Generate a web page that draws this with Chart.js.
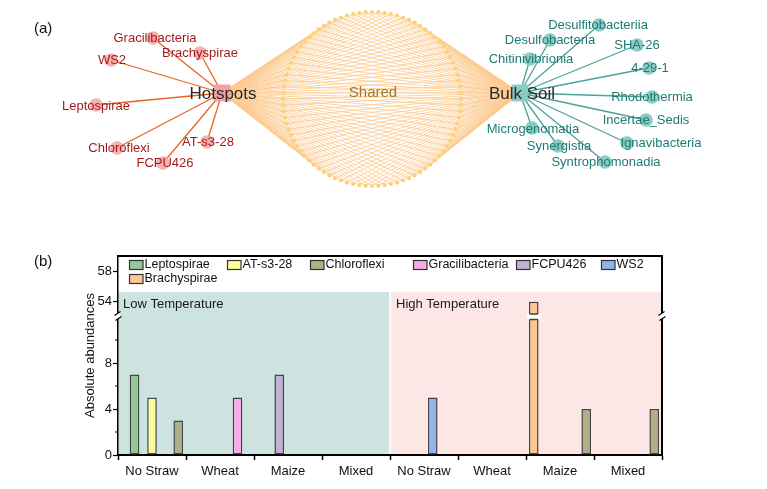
<!DOCTYPE html>
<html><head><meta charset="utf-8">
<script src="https://cdn.jsdelivr.net/npm/chart.js@4.4.0/dist/chart.umd.min.js"></script>
<style>
html,body{margin:0;padding:0;background:#fff;width:767px;height:489px;overflow:hidden}
#wa{position:absolute;left:0;top:0;width:767px;height:210px}
#wb{position:absolute;left:0;top:230px;width:767px;height:259px}
</style></head><body>
<div id="wa"><canvas id="ca"></canvas></div>
<div id="wb"><canvas id="cb"></canvas></div>
<script>
// ================= DATA =================
// Panel (a): network
const hubNames = ['Hotspots', 'Bulk Soil'];
const hotspotTaxa = ['Gracilibacteria','Brachyspirae','WS2','Leptospirae','Chloroflexi','FCPU426','AT-s3-28'];
const bulkSoilTaxa = ['Desulfitobacteriia','Desulfobacteria','SHA-26','Chitinivibrionia','4-29-1','Rhodothermia','Incertae_Sedis','Ignavibacteria','Microgenomatia','Synergistia','Syntrophomonadia'];
const sharedLabel = 'Shared';
const sharedTaxaCount = 88;

// Panel (b): bar chart
const groupLabels = ['No Straw','Wheat','Maize','Mixed','No Straw','Wheat','Maize','Mixed'];
const temperatureLabels = ['Low Temperature','High Temperature'];
const seriesNames = ['Brachyspirae','Leptospirae','FCPU426','AT-s3-28','WS2','Gracilibacteria','Chloroflexi'];
const brachyspirae    = [null,null,null,null,null,null,54,null];
const leptospirae     = [7,null,null,null,null,null,null,null];
const fcpu426         = [null,null,7,null,null,null,null,null];
const atS328          = [5,null,null,null,null,null,null,null];
const ws2             = [null,null,null,null,5,null,null,null];
const gracilibacteria = [null,5,null,null,null,null,null,null];
const chloroflexi     = [3,null,null,null,null,null,4,4];
const seriesValues = [brachyspirae, leptospirae, fcpu426, atS328, ws2, gracilibacteria, chloroflexi];
const legendOrder = ['Leptospirae','AT-s3-28','Chloroflexi','Gracilibacteria','FCPU426','WS2','Brachyspirae'];
const yTickValues = [0,4,8,54,58];
const yMinorTickValues = [2,6,10];
const yAxisBreak = {low:12, high:52};
const yRange = {min:0, max:60};

// ================= STYLE / LAYOUT =================
const FONT = '"Liberation Sans", Arial, Helvetica, sans-serif';
const netLayout = {
  hubs: {'Hotspots':[222,93], 'Bulk Soil':[520,93]},
  nodes: {
    'Gracilibacteria':[153,38],'Brachyspirae':[200,53],'WS2':[111,60],'Leptospirae':[96,105],
    'Chloroflexi':[117,148],'FCPU426':[163,163],'AT-s3-28':[207,142],
    'Desulfitobacteriia':[599,25],'Desulfobacteria':[550,40],'SHA-26':[637,45],'Chitinivibrionia':[530,59],
    '4-29-1':[649,68],'Rhodothermia':[652,97],'Incertae_Sedis':[646,120],'Ignavibacteria':[627,143],
    'Microgenomatia':[532,128],'Synergistia':[558,146],'Syntrophomonadia':[605,162]
  },
  labels: {
    'Gracilibacteria':[155,38],'Brachyspirae':[200,53],'WS2':[112,60],'Leptospirae':[96,106],
    'Chloroflexi':[119,148],'FCPU426':[165,163],'AT-s3-28':[208,142],
    'Desulfitobacteriia':[598,25],'Desulfobacteria':[550,40],'SHA-26':[637,45],'Chitinivibrionia':[531,59],
    '4-29-1':[650,68],'Rhodothermia':[652,97],'Incertae_Sedis':[646,120],'Ignavibacteria':[661,143],
    'Microgenomatia':[533,129],'Synergistia':[559,146],'Syntrophomonadia':[606,162]
  },
  hubLabels: {'Hotspots':[223,94], 'Bulk Soil':[522,94]},
  shared: {cx:372, cy:99, rx:89, ry:87, label:[373,93]}
};
const seriesColors = {
  'Leptospirae':'#93c89b','AT-s3-28':'#fcfc9c','Chloroflexi':'#afaf88','Gracilibacteria':'#f9aaea',
  'FCPU426':'#c2b1d3','WS2':'#92b3ec','Brachyspirae':'#fdc791'
};
// legend item x (page px) and row offset below the plot frame top
const legendPos = [[129,9],[227,9],[310,9],[413,9],[516,9],[601,9],[129,23]];

// ================= PANEL (a) =================
const ringPts = [];
(function(){
  const R = netLayout.shared;
  for (let i = 0; i < sharedTaxaCount; i++) {
    const a = -Math.PI/2 + 2*Math.PI*i/sharedTaxaCount;
    ringPts.push({x: R.cx + R.rx*Math.cos(a), y: R.cy + R.ry*Math.sin(a)});
  }
})();
function edges(hub, pts) {
  const d = [];
  pts.forEach(p => { d.push({x:hub[0], y:hub[1]}, {x:p.x, y:p.y}, {x:null, y:null}); });
  return d;
}
const hotHub = netLayout.hubs['Hotspots'], bulkHub = netLayout.hubs['Bulk Soil'];
const hotPts = hotspotTaxa.map(n => ({x:netLayout.nodes[n][0], y:netLayout.nodes[n][1]}));
const bulkPts = bulkSoilTaxa.map(n => ({x:netLayout.nodes[n][0], y:netLayout.nodes[n][1]}));

const netLabelsPlugin = {
  id:'netLabels',
  afterDatasetsDraw(chart) {
    const ctx = chart.ctx, xs = chart.scales.x, ys = chart.scales.y;
    ctx.save();
    ctx.textAlign = 'center'; ctx.textBaseline = 'middle';
    ctx.font = '13px ' + FONT;
    ctx.fillStyle = '#9e1a1a';
    hotspotTaxa.forEach(n => { const p = netLayout.labels[n]; ctx.fillText(n, xs.getPixelForValue(p[0]), ys.getPixelForValue(p[1])); });
    ctx.fillStyle = '#1c7b73';
    bulkSoilTaxa.forEach(n => { const p = netLayout.labels[n]; ctx.fillText(n, xs.getPixelForValue(p[0]), ys.getPixelForValue(p[1])); });
    ctx.font = '17px ' + FONT;
    ctx.fillStyle = '#2a2a2a';
    hubNames.forEach(n => { const p = netLayout.hubLabels[n]; ctx.fillText(n, xs.getPixelForValue(p[0]), ys.getPixelForValue(p[1])); });
    ctx.font = '15px ' + FONT;
    ctx.fillStyle = '#a67a22';
    const s = netLayout.shared.label;
    ctx.fillText(sharedLabel, xs.getPixelForValue(s[0]), ys.getPixelForValue(s[1]));
    ctx.font = '15px ' + FONT;
    ctx.fillStyle = '#111';
    ctx.textAlign = 'left';
    ctx.fillText('(a)', 34, 29);
    ctx.restore();
  }
};

new Chart(document.getElementById('ca'), {
  type:'scatter',
  data:{ datasets:[
    {label:'shared edges', data: edges(hotHub, ringPts).concat(edges(bulkHub, ringPts)), showLine:true, spanGaps:false,
     borderColor:'#fcc98e', borderWidth:0.8, pointRadius:0, order:10},
    {label:'hotspot edges', data: edges(hotHub, hotPts), showLine:true, spanGaps:false,
     borderColor:'#e2681e', borderWidth:1.3, pointRadius:0, order:9},
    {label:'bulk edges', data: edges(bulkHub, bulkPts), showLine:true, spanGaps:false,
     borderColor:'#4ba29c', borderWidth:1.3, pointRadius:0, order:9},
    {label:'shared nodes', data: ringPts, pointRadius:2.1, pointBackgroundColor:'#fdd277', pointBorderWidth:0, order:5},
    {label:'hotspot nodes', data: hotPts, pointRadius:6.8, pointBackgroundColor:'rgba(246,165,165,0.88)', pointBorderWidth:0, order:4},
    {label:'bulk nodes', data: bulkPts, pointRadius:6.8, pointBackgroundColor:'rgba(126,200,192,0.9)', pointBorderWidth:0, order:4},
    {label:'hubs', data:[{x:hotHub[0],y:hotHub[1]}], pointStyle:'rect', pointRadius:12, pointBackgroundColor:'#f5a0a0', pointBorderWidth:0, order:1},
    {label:'hubs2', data:[{x:bulkHub[0],y:bulkHub[1]}], pointStyle:'rect', pointRadius:12, pointBackgroundColor:'#8ccbc4', pointBorderWidth:0, order:1}
  ]},
  options:{
    animation:false, responsive:true, maintainAspectRatio:false,
    layout:{padding:0, autoPadding:false},
    events:[],
    elements:{line:{tension:0}},
    datasets:{scatter:{clip:false}},
    scales:{
      x:{type:'linear', min:0, max:767, display:false},
      y:{type:'linear', min:0, max:210, reverse:true, display:false}
    },
    plugins:{legend:{display:false}, tooltip:{enabled:false}}
  },
  plugins:[netLabelsPlugin]
});

// ================= PANEL (b) =================
class BrokenLinearScale extends Chart.LinearScale {
  _dec(v) {
    const lowFrac = 138/199;
    const b = yAxisBreak;
    if (v <= b.low) return (v - this.min) / (b.low - this.min) * lowFrac;
    if (v >= b.high) return lowFrac + (v - b.high) / (this.max - b.high) * (1 - lowFrac);
    return lowFrac;
  }
  buildTicks() { return yTickValues.map(v => ({value:v})); }
  getPixelForValue(v) {
    if (v === null || v === undefined || isNaN(v)) return NaN;
    return this.getPixelForDecimal(this._dec(v));
  }
  getValueForPixel(p) {
    const d = this.getDecimalForPixel(p), lowFrac = 138/199, b = yAxisBreak;
    if (d <= lowFrac) return this.min + d / lowFrac * (b.low - this.min);
    return b.high + (d - lowFrac) / (1 - lowFrac) * (this.max - b.high);
  }
}
BrokenLinearScale.id = 'brokenLinear';
BrokenLinearScale.defaults = {};
Chart.register(BrokenLinearScale);

const barDecor = {
  id:'barDecor',
  beforeDraw(chart) {
    const ctx = chart.ctx, a = chart.chartArea, xs = chart.scales.x, ys = chart.scales.y;
    const mid = xs.getPixelForValue(3.5);
    const top = ys.getPixelForValue(55.3);
    ctx.save();
    ctx.fillStyle = '#cde3df';
    ctx.fillRect(a.left, top, mid - 0.8 - a.left, a.bottom - top);
    ctx.fillStyle = '#fde6e6';
    ctx.fillRect(mid + 0.8, top, a.right - mid - 0.8, a.bottom - top);
    ctx.font = '13px ' + FONT;
    ctx.fillStyle = '#1a1a1a';
    ctx.textAlign = 'left'; ctx.textBaseline = 'middle';
    ctx.fillText(temperatureLabels[0], a.left + 5, top + 13);
    ctx.fillText(temperatureLabels[1], mid + 6, top + 13);
    ctx.restore();
  },
  afterDatasetsDraw(chart) {
    const ctx = chart.ctx, ys = chart.scales.y;
    const bp = ys.getPixelForValue(yAxisBreak.low);
    ctx.save();
    chart.data.datasets.forEach((ds, di) => {
      const meta = chart.getDatasetMeta(di);
      meta.data.forEach((el, i) => {
        const v = ds.data[i];
        if (v !== null && v > yAxisBreak.low) {
          const w = el.width + 4;
          ctx.fillStyle = '#ffffff';
          ctx.fillRect(el.x - w/2, bp - 3, w, 5.5);
          ctx.strokeStyle = '#444'; ctx.lineWidth = 1.4;
          ctx.beginPath();
          ctx.moveTo(el.x - el.width/2 + 0.6, bp - 3); ctx.lineTo(el.x + el.width/2 - 0.6, bp - 3);
          ctx.moveTo(el.x - el.width/2 + 0.6, bp + 2.5); ctx.lineTo(el.x + el.width/2 - 0.6, bp + 2.5);
          ctx.stroke();
        }
      });
    });
    ctx.restore();
  },
  afterDraw(chart) {
    const ctx = chart.ctx, a = chart.chartArea, ys = chart.scales.y;
    ctx.save();
    // frame top & right
    ctx.strokeStyle = '#000'; ctx.lineWidth = 2;
    ctx.beginPath();
    ctx.moveTo(a.left - 0.75, a.top); ctx.lineTo(a.right, a.top); ctx.lineTo(a.right, a.bottom);
    ctx.stroke();
    // minor ticks
    ctx.lineWidth = 1.2;
    ctx.beginPath();
    yMinorTickValues.forEach(v => { const p = ys.getPixelForValue(v); ctx.moveTo(a.left - 3, p); ctx.lineTo(a.left, p); });
    ctx.stroke();
    // axis breaks
    const bp = ys.getPixelForValue(yAxisBreak.low) - 1;
    [a.left, a.right].forEach(x => {
      ctx.fillStyle = '#fff';
      ctx.fillRect(x - 2, bp - 3, 4, 6);
      ctx.strokeStyle = '#000'; ctx.lineWidth = 1.2;
      ctx.beginPath();
      ctx.moveTo(x - 3.5, bp - 0.5); ctx.lineTo(x + 2.5, bp - 4.5);
      ctx.moveTo(x - 2.5, bp + 4.5); ctx.lineTo(x + 3.5, bp + 0.5);
      ctx.stroke();
    });
    // legend
    ctx.font = '12.5px ' + FONT;
    ctx.textAlign = 'left'; ctx.textBaseline = 'middle';
    legendOrder.forEach((name, k) => {
      const px = legendPos[k][0], py = a.top + legendPos[k][1];
      ctx.fillStyle = seriesColors[name];
      ctx.fillRect(px, py - 4.5, 14, 9);
      ctx.strokeStyle = '#333'; ctx.lineWidth = 1.2;
      ctx.strokeRect(px + 0.5, py - 4.5, 13.5, 9);
      ctx.fillStyle = '#111';
      ctx.fillText(name, px + 15.5, py);
    });
    // panel label
    ctx.font = '15px ' + FONT;
    ctx.fillStyle = '#111';
    ctx.fillText('(b)', 34, 32);
    ctx.restore();
  }
};

new Chart(document.getElementById('cb'), {
  type:'bar',
  data:{
    labels: groupLabels,
    datasets: seriesNames.map((n, i) => ({
      label:n, data:seriesValues[i], backgroundColor:seriesColors[n],
      borderColor:'#444', borderWidth:1.5, borderSkipped:false
    }))
  },
  options:{
    animation:false, responsive:true, maintainAspectRatio:false,
    events:[],
    layout:{padding:{left:79, right:105, top:26, bottom:0}},
    datasets:{bar:{categoryPercentage:0.9, barPercentage:1.1}},
    scales:{
      x:{
        type:'category', offset:true,
        grid:{offset:true, drawOnChartArea:false, drawTicks:true, tickLength:5, tickWidth:1.5, tickColor:'#000'},
        border:{display:true, color:'#000', width:2},
        ticks:{color:'#111', font:{size:13, family:FONT}, padding:4, maxRotation:0, autoSkip:false},
        afterFit(s){ s.height = 34; }
      },
      y:{
        type:'brokenLinear', min:yRange.min, max:yRange.max,
        grid:{drawOnChartArea:false, drawTicks:true, tickLength:5, tickWidth:1.2, tickColor:'#000'},
        border:{display:true, color:'#000', width:1.5},
        ticks:{color:'#111', font:{size:13, family:FONT}, padding:1, autoSkip:false, callback:(v) => String(v)},
        title:{display:true, text:'Absolute abundances', color:'#111', font:{size:13, family:FONT}, padding:{top:4, bottom:0}},
        afterFit(s){ s.width = 39; }
      }
    },
    plugins:{legend:{display:false}, tooltip:{enabled:false}}
  },
  plugins:[barDecor]
});
</script>
</body></html>
